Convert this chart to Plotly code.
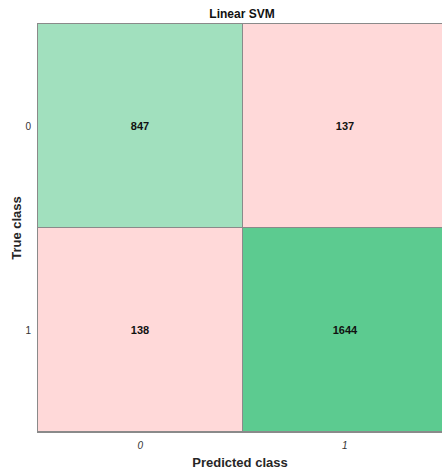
import plotly.graph_objects as go

classes = ["0", "1"]
counts = [[847, 137],
          [138, 1644]]
title = "Linear SVM"

# colour index: off-diagonal -> 0 (pink), diagonal -> scaled green
maxdiag = max(counts[i][i] for i in range(len(classes)))
zc = [[(counts[i][j] / maxdiag if i == j else 0.0) for j in range(len(classes))]
      for i in range(len(classes))]

colorscale = [[0.0, "#FFD9D9"], [0.05, "#FFD9D9"], [0.06, "#E6F7EE"], [0.5, "#A3E1BF"], [1.0, "#5CCB90"]]

fig = go.Figure(go.Heatmap(
    z=zc, x=[0, 1], y=[0, 1],
    text=[[str(v) for v in row] for row in counts],
    texttemplate="%{text}",
    textfont=dict(family="Liberation Sans, Arial", size=11, color="#111111", weight="bold"),
    colorscale=colorscale, zmin=0, zmax=1, showscale=False,
    xgap=1, ygap=1, hoverinfo="skip",
))

fig.update_layout(
    width=442, height=470,
    margin=dict(l=38, r=0, t=24, b=38, autoexpand=False),
    paper_bgcolor="white", plot_bgcolor="#8a8a8a",
    font=dict(family="Liberation Sans, Arial", color="#262626"),
    title=dict(text="<b>" + title + "</b>", x=242/442, xref="container", xanchor="center",
               y=1 - 14/470, yref="container", yanchor="middle", automargin=False,
               font=dict(size=12, color="#111111")),
)
fig.update_xaxes(
    tickvals=[0, 1], ticktext=classes, range=[-0.5, 1.475], automargin=False,
    showline=True, linecolor="#8a8a8a", linewidth=1, mirror=True,
    ticks="", ticklen=0, showgrid=False, zeroline=False, ticklabelstandoff=4,
    tickfont=dict(size=10, color="#333333", style="italic"),
    title=dict(text="<b>Predicted class</b>", font=dict(size=13, color="#262626"), standoff=11),
)
fig.update_yaxes(
    tickvals=[0, 1], ticktext=classes, range=[1.5, -0.5], automargin=False,
    showline=True, linecolor="#8a8a8a", linewidth=1, mirror=False,
    ticks="", ticklen=0, showgrid=False, zeroline=False, ticklabelstandoff=4,
    tickfont=dict(size=10, color="#333333"),
    title=dict(text="<b>True class</b>", font=dict(size=13, color="#262626"), standoff=0),
)

fig.write_html("out.html", config={"displayModeBar": False},
               post_script="document.body.style.margin='0';document.body.style.overflow='hidden';")
